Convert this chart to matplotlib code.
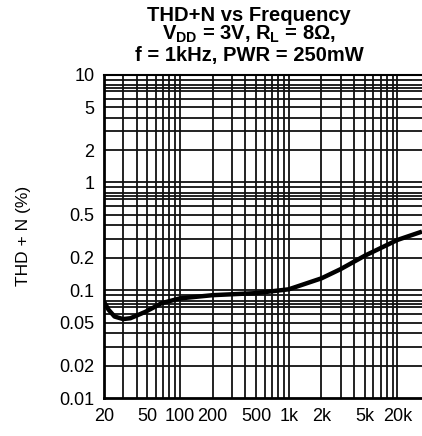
import matplotlib
matplotlib.use("Agg")
import matplotlib.pyplot as plt
import numpy as np

plt.rcParams['font.family'] = ['Liberation Sans', 'DejaVu Sans']
plt.rcParams['mathtext.fontset'] = 'custom'
plt.rcParams['mathtext.rm'] = 'Liberation Sans'
plt.rcParams['mathtext.bf'] = 'Liberation Sans:bold'

# courbe
freq = [20, 22, 25, 30, 35, 48, 68, 100, 200, 500, 1000, 2000, 3000, 5000, 10000, 16800]
thd = [0.078, 0.066, 0.057, 0.054, 0.055, 0.063, 0.076, 0.084, 0.090, 0.094, 0.102,
       0.129, 0.157, 0.209, 0.293, 0.35]

xticks = [20, 50, 100, 200, 500, 1000, 2000, 5000, 10000]
xlabels = ['20', '50', '100', '200', '500', '1k', '2k', '5k', '20k']
yticks = [0.01, 0.02, 0.05, 0.1, 0.2, 0.5, 1, 2, 5, 10]
ylabels = ['0.01', '0.02', '0.05', '0.1', '0.2', '0.5', '1', '2', '5', '10']

fig = plt.figure(figsize=(4.22, 4.36), dpi=100)
ax = fig.add_axes([104/422, 38/436, 318/422, 323.3/436])

# grille
xgrid = [m * 10**d for d in range(1, 5) for m in range(1, 10)]
xgrid = [v for v in xgrid if 20 < v <= 10000]
ygrid = [m * 10**d for d in range(-2, 1) for m in [1, 2, 3, 4, 5, 6, 7, 7.5, 8, 9]]
ygrid = [v for v in ygrid if 0.01 < v < 10]
for v in xgrid:
    ax.axvline(v, color='#111111', lw=1.3, zorder=1)
for v in ygrid:
    ax.axhline(v, color='#111111', lw=1.3, zorder=1)

ax.plot(freq, thd, color='black', lw=3.2, zorder=3, solid_capstyle='butt')

ax.set_xscale('log')
ax.set_yscale('log')
ax.set_xlim(20, 16800)
ax.set_ylim(0.01, 10)
ax.set_xticks(xticks)
ax.set_xticklabels(xlabels)
ax.set_yticks(yticks)
ax.set_yticklabels(ylabels)
ax.minorticks_off()
ax.tick_params(length=0, labelsize=13, pad=7)

for s in ['left', 'bottom']:
    ax.spines[s].set_linewidth(2)
ax.spines['top'].set_linewidth(1.5)
ax.spines['right'].set_visible(False)

ax.set_ylabel('THD + N (%)', fontsize=12.5, labelpad=20)

fig.text(0.59, 0.964, 'THD+N vs Frequency', ha='center', va='center',
         fontsize=14.5, fontweight='bold')
fig.text(0.59, 0.921, r'V$_\mathbf{DD}$ = 3V, R$_\mathbf{L}$ = 8Ω,', ha='center',
         va='center', fontsize=14.5, fontweight='bold')
fig.text(0.59, 0.873, 'f = 1kHz, PWR = 250mW', ha='center', va='center',
         fontsize=14.5, fontweight='bold')

plt.savefig('out.png', dpi=100)
